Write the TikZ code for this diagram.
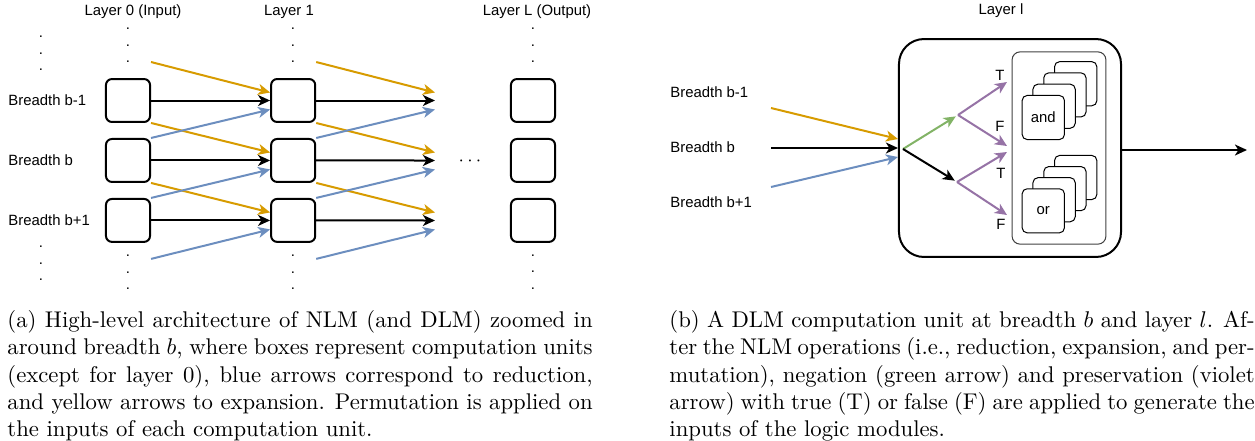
\documentclass[tikz,border=0pt]{standalone}
\usepackage{fontspec}
\setsansfont{Liberation Sans}
\usetikzlibrary{positioning, calc, arrows.meta}
\definecolor{expcol}{HTML}{D79B00}
\definecolor{redcol}{HTML}{6C8EBF}
\definecolor{negcol}{HTML}{82B366}
\definecolor{precol}{HTML}{9673A6}

\begin{document}
\begin{tikzpicture}[x=0.44pt, y=-0.44pt,
  lbl/.style={inner sep=0pt, font=\sffamily\fontsize{6.55}{7.9}\selectfont},
  vdots/.style={inner sep=0pt, align=center, font=\sffamily\fontsize{6.55}{7.3}\selectfont},
  cell/.style={draw, line width=0.88pt, rounded corners=2.64pt, minimum width=19.4pt, minimum height=18.9pt, inner sep=0pt},
  module/.style={draw, fill=white, line width=0.44pt, rounded corners=2.2pt, minimum width=18.6pt, minimum height=19.4pt, lbl},
  arr/.style={line width=0.88pt, -{Stealth[length=5.3pt, width=4.8pt, inset=1.5pt]}},
  capt/.style={anchor=north west, inner sep=0pt, text width=257.5pt, align=justify, font=\fontsize{10}{12}\selectfont}]
\useasboundingbox (0,0) rectangle (1255,440);

%% (a) architecture around breadth b
\node[lbl] (HeadIn) at (133,12) {Layer 0 (Input)};
\node[lbl] (HeadMid) at (289,12) {Layer 1};
\node[lbl] (HeadOut) at (537,12) {Layer L (Output)};
\node[lbl, anchor=west] (BrA) at (8,100) {Breadth b-1};
\node[lbl, anchor=west] (BrB) at (8,160) {Breadth b};
\node[lbl, anchor=west] (BrC) at (8,220) {Breadth b+1};

\node[cell] (InA) at (128,100.5) {};
\node[cell, below=6.6pt of InA] (InB) {};
\node[cell, below=6.6pt of InB] (InC) {};
\node[cell, right=52.4pt of InA] (MidA) {};
\node[cell, below=6.6pt of MidA] (MidB) {};
\node[cell, below=6.6pt of MidB] (MidC) {};
\node[cell] (OutA) at (533,100.5) {};
\node[cell, below=6.6pt of OutA] (OutB) {};
\node[cell, below=6.6pt of OutB] (OutC) {};

\node[vdots] (DotsBrTop) at (41,53.5) {.\\.\\.};
\node[vdots] (DotsBrBot) at (41,263.5) {.\\.\\.};
\node[vdots] (DotsInTop) at (128,45.5) {.\\.\\.};
\node[vdots] (DotsInBot) at (128,272.5) {.\\.\\.};
\node[vdots] (DotsMidTop) at (293,45.5) {.\\.\\.};
\node[vdots] (DotsMidBot) at (293,272.5) {.\\.\\.};
\node[vdots] (DotsOutTop) at (533,45.5) {.\\.\\.};
\node[vdots] (DotsOutBot) at (533,272) {.\\.\\.};
\node[inner sep=0pt, font=\fontsize{7.9}{9.5}\selectfont] (Gap) at (470,161) {$\cdots$};

% layer 0 -> layer 1
\draw[arr] (InA) -- (MidA);
\draw[arr] (InB) -- (MidB);
\draw[arr] (InC) -- (MidC);
\draw[arr, expcol] ($(InA.north east)+(0,-16)$) -- ($(MidA.west)+(0,-8)$);
\draw[arr, expcol] (InA.south east) -- ($(MidB.west)+(0,-8)$);
\draw[arr, expcol] (InB.south east) -- ($(MidC.west)+(0,-8)$);
\draw[arr, redcol] (InB.north east) -- ($(MidA.west)+(0,9)$);
\draw[arr, redcol] (InC.north east) -- ($(MidB.west)+(0,9)$);
\draw[arr, redcol] ($(InC.south east)+(0,16)$) -- ($(MidC.west)+(0,9)$);

% layer 1 -> next layer
\coordinate (EndA) at (435,100.5);
\coordinate (EndB) at (435,160.5);
\coordinate (EndC) at (435,220.5);
\draw[arr] (MidA) -- (EndA);
\draw[arr] (MidB) -- (EndB);
\draw[arr] (MidC) -- (EndC);
\draw[arr, expcol] ($(MidA.north east)+(0,-16)$) -- ($(EndA)+(0,-8)$);
\draw[arr, expcol] (MidA.south east) -- ($(EndB)+(0,-8)$);
\draw[arr, expcol] (MidB.south east) -- ($(EndC)+(0,-8)$);
\draw[arr, redcol] (MidB.north east) -- ($(EndA)+(0,9)$);
\draw[arr, redcol] (MidC.north east) -- ($(EndB)+(0,9)$);
\draw[arr, redcol] ($(MidC.south east)+(0,16)$) -- ($(EndC)+(0,9)$);

%% (b) one DLM computation unit
\node[lbl] (HeadUnit) at (1001,11) {Layer l};
\node[lbl, anchor=west] (UBrA) at (670,92) {Breadth b-1};
\node[lbl, anchor=west] (UBrB) at (670,147) {Breadth b};
\node[lbl, anchor=west] (UBrC) at (670,202) {Breadth b+1};
\node[draw, line width=0.88pt, rounded corners=11pt, minimum width=97.7pt, minimum height=95.9pt] (Unit) at (1010,148) {};
\node[draw, black!75, line width=0.44pt, rounded corners=3.55pt, minimum width=41.3pt, minimum height=84.6pt] (Mods) at (1059,148) {};

\node[module] (AndD) at (1075.7,83.7) {};
\node[module] (AndC) at (1064.9,94.9) {};
\node[module] (AndB) at (1054.1,106.2) {};
\node[module] (AndA) at (1043.3,117.5) {and};
\node[module] (OrD) at (1075.7,177.5) {};
\node[module] (OrC) at (1064.9,188.6) {};
\node[module] (OrB) at (1054.1,199.7) {};
\node[module] (OrA) at (1043.3,210.8) {or};

\coordinate (SrcA) at (771,108);
\coordinate (SrcB) at (771,148);
\coordinate (SrcC) at (771,187);
\draw[arr, expcol] (SrcA) -- ($(Unit.west)+(0,-9)$);
\draw[arr] (SrcB) -- (Unit.west);
\draw[arr, redcol] (SrcC) -- ($(Unit.west)+(0,9)$);

\coordinate (Split) at (903,149);
\coordinate (NegFork) at (958,115);
\coordinate (KeepFork) at (957,182);
\draw[arr, negcol, shorten >=1.15pt] (Split) -- (NegFork);
\draw[arr, shorten >=1.15pt] (Split) -- (KeepFork);

\coordinate (InT1) at (1007,82);
\coordinate (InF1) at (1007,146);
\coordinate (InT2) at (1007,152);
\coordinate (InF2) at (1007,215);
\draw[arr, precol] (NegFork) -- (InT1);
\draw[arr, precol] (NegFork) -- (InF1);
\draw[arr, precol] (KeepFork) -- (InT2);
\draw[arr, precol] (KeepFork) -- (InF2);
\node[lbl] (LT1) at (1000,75) {T};
\node[lbl] (LF1) at (1000,126) {F};
\node[lbl] (LT2) at (1001,173) {T};
\node[lbl] (LF2) at (1001,224) {F};

\coordinate (Res) at (1247,150);
\draw[arr] (Unit.east |- Res) -- (Res);

%% captions
\node[capt] (CapA) at (7,310) {(a) High-level architecture of NLM (and DLM) zoomed in around breadth $b$, where boxes represent computation units (except for layer 0), blue arrows correspond to reduction, and yellow arrows to expansion. Permutation is applied on the inputs of each computation unit.};
\node[capt] (CapB) at (669,310) {(b) A DLM computation unit at breadth $b$ and layer $l$. After the NLM operations (i.e., reduction, expansion, and permutation), negation (green arrow) and preservation (violet arrow) with true (T) or false (F) are applied to generate the inputs of the logic modules.};

\end{tikzpicture}
\end{document}
